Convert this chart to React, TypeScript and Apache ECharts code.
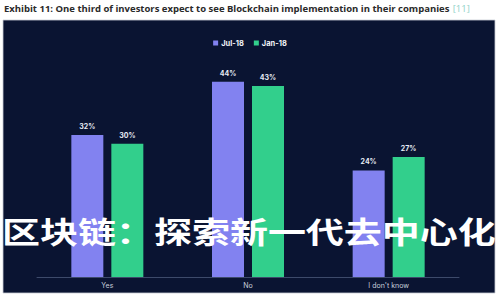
import React, { useEffect, useRef } from "react";
import * as echarts from "echarts";

const categories = ["Yes", "No", "I don't know"];
const jul18 = [32, 44, 24];
const jan18 = [30, 43, 27];
const seriesNames = ["Jul-18", "Jan-18"];
const titleText = "Exhibit 11: One third of investors expect to see Blockchain implementation in their companies";
const refText = "[11]";
const overlayText = "区块链：探索新一代去中心化";

export default function App() {
  const ref = useRef<HTMLDivElement>(null);
  useEffect(() => {
    if (!ref.current) return;
    const chart = echarts.init(ref.current, null, { renderer: "svg" });
    const labelStyle = {
      show: true,
      position: "top",
      color: "#e8ecf5",
      fontSize: 7,
      fontWeight: "bold",
      fontFamily: "Inter, sans-serif",
      formatter: (p: any) => p.value + "%",
    };
    chart.setOption({
      animation: false,
      backgroundColor: "#ffffff",
      graphic: [
        {
          type: "rect",
          z: -10,
          shape: { x: 3, y: 20, width: 492, height: 273 },
          style: { fill: "#0a1432", stroke: "#c8ccd4", lineWidth: 0.8 },
        },
        {
          type: "text",
          left: 4,
          top: 2,
          style: {
            rich: {
              t: { fill: "#2a2a2a", fontSize: 9.5, fontWeight: "bold", fontFamily: "Open Sans, sans-serif" },
              r: { fill: "#8fd2c8", fontSize: 9.5, fontFamily: "Open Sans, sans-serif" },
            },
            text: "{t|" + titleText + "} {r|" + refText + "}",
          },
        },
        {
          type: "text",
          z: 100,
          x: 2,
          y: 230,
          scaleY: 0.78,
          style: {
            text: overlayText,
            fill: "#ffffff",
            fontSize: 38,
            fontWeight: "bold",
            fontFamily: "Noto Sans CJK SC, sans-serif",
            verticalAlign: "middle",
            align: "left",
          },
        },
      ],
      legend: {
        data: seriesNames,
        top: 34,
        left: "center",
        icon: "rect",
        itemWidth: 5,
        itemHeight: 5,
        itemGap: 10,
        textStyle: { color: "#f0f2f8", fontSize: 7.5, fontWeight: "bold", fontFamily: "Inter, sans-serif", padding: [0, 0, 0, -2] },
      },
      grid: { left: 37, right: 41, top: 55, bottom: 23 },
      xAxis: {
        type: "category",
        data: categories,
        axisTick: { show: false },
        axisLine: { lineStyle: { color: "#3d4a6a", width: 1 } },
        axisLabel: { color: "#c9cfdc", fontSize: 7, fontFamily: "Inter, sans-serif", margin: 5 },
      },
      yAxis: {
        type: "value",
        min: 0,
        max: 50,
        show: false,
        splitLine: { show: false },
      },
      series: [
        {
          name: seriesNames[0],
          type: "bar",
          data: jul18,
          barWidth: 32,
          barGap: "25%",
          itemStyle: { color: "#8282f0" },
          label: labelStyle,
        },
        {
          name: seriesNames[1],
          type: "bar",
          data: jan18,
          barWidth: 32,
          itemStyle: { color: "#32cf8c" },
          label: labelStyle,
        },
      ],
    });
    return () => chart.dispose();
  }, []);
  return (
    <div style={{ position: "fixed", left: 0, top: 0, width: 500, height: 300, background: "#fff" }}>
      <div ref={ref} style={{ width: 500, height: 300 }} />
    </div>
  );
}
